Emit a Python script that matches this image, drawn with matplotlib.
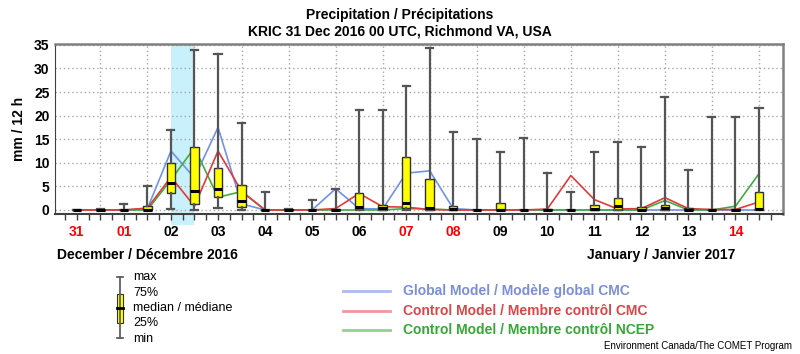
import matplotlib
matplotlib.use("Agg")
import matplotlib.pyplot as plt
from matplotlib.transforms import blended_transform_factory
from matplotlib.patches import Rectangle

plt.rcParams['font.family'] = ['Liberation Sans', 'DejaVu Sans']

# ---- data (12-hourly, starting 31 Dec 2016 00 UTC) ----
mins    = [0, 0, 0, 0, 0.2, 0.1, 0.5, 0, 0, 0, 0, 0, 0, 0, 0.1, 0, 0, 0, 0, 0, 0, 0, 0, 0, 0, 0, 0, 0, 0, 0.1]
q1s     = [0, 0, 0, 0, 3.7, 1.2, 2.8, 0.6, 0, 0, 0, 0, 0.2, 0.1, 0.35, 0.1, 0, 0, 0, 0, 0, 0, 0, 0, 0, 0, 0, 0, 0, 0.2]
medians = [0, 0, 0, 0.1, 5.8, 4.0, 4.5, 1.8, 0, 0.1, 0, 0.1, 0.6, 0.5, 1.5, 0.5, 0.2, 0, 0.1, 0, 0.1, 0, 0.3, 0.8, 0.1, 0.4, 0.1, 0, 0.1, 0.3]
q3s     = [0.1, 0.1, 0, 0.8, 10.0, 13.4, 9.0, 5.2, 0, 0.2, 0, 0.3, 3.7, 1.1, 11.2, 6.5, 0.8, 0.1, 1.4, 0, 0.3, 0, 1.1, 2.6, 0.6, 1.1, 0.5, 0, 0.2, 3.9]
maxs    = [0.1, 0.2, 1.3, 5.0, 17.0, 34.0, 33.0, 18.5, 3.8, 0.3, 2.2, 4.5, 21.2, 21.2, 26.3, 34.3, 16.5, 15.0, 12.2, 15.3, 7.8, 3.8, 12.2, 14.5, 13.4, 24.0, 8.4, 19.8, 19.8, 21.6]

global_cmc  = [0, 0, 0, 0.3, 12.5, 6.8, 17.5, 1.3, 0, 0, 0, 4.5, 0.3, 0.2, 7.8, 8.3, 0.3, 0, 0, 0, 0, 0, 0, 0, 0, 0, 0, 0, 0, 0]
control_cmc = [0, 0, 0, 0.4, 7.0, 0.8, 12.5, 4.0, 0, 0, 0, 0.3, 3.5, 0.7, 0.6, 0.1, 0, 0, 0, 0, 0.2, 7.3, 2.2, 0.2, 0.3, 2.6, 0.3, 0.1, 0.1, 1.7]
control_ncep = [0, 0, 0, 0, 6.4, 13.2, 2.7, 3.9, 0, 0, 0, 0, 0, 0, 0.3, 0.2, 0, 0, 0, 0, 0, 0, 0, 0, 0, 2.0, 0, 0, 0.8, 7.7]

day_labels = ['31', '01', '02', '03', '04', '05', '06', '07', '08', '09', '10', '11', '12', '13', '14']
day_colors = ['red', 'red', 'black', 'black', 'black', 'black', 'black', 'red', 'red',
              'black', 'black', 'black', 'black', 'black', 'red']

n = len(maxs)
positions = list(range(n))

fig = plt.figure(figsize=(8, 3.54), dpi=100)
ax = fig.add_axes([0.06875, 0.3955, 0.91, 0.4805])
ax.set_xlim(-0.93, 30.02)
ax.set_ylim(-0.85, 35.2)

# highlight span (extends below axis)
trans = blended_transform_factory(ax.transData, ax.transAxes)
ax.add_patch(Rectangle((4, -0.065), 1, 1.065, transform=trans, facecolor='#c9f1fb',
                       edgecolor='none', clip_on=False, zorder=0))

# grid
for yv in range(0, 36, 5):
    ax.axhline(yv, color='#a8a8a8', lw=1.0, ls=(0, (1, 2)), zorder=1)
for xv in range(1, 30, 2):
    ax.axvline(xv, color='#a8a8a8', lw=1.0, ls=(0, (1, 2)), zorder=1)

# lines
ax.plot(positions, global_cmc, color='#6f93e8', lw=1.2, zorder=3)
ax.plot(positions, control_ncep, color='#3fae3f', lw=1.2, zorder=3)
ax.plot(positions, control_cmc, color='#e23a3a', lw=1.2, zorder=3)

# boxes
stats = [dict(whislo=mins[i], q1=q1s[i], med=medians[i], q3=q3s[i], whishi=maxs[i])
         for i in range(n)]
ax.bxp(stats, positions=positions, widths=0.36, showfliers=False, patch_artist=True,
       boxprops=dict(facecolor='#ffff00', edgecolor='#303030', lw=1.0),
       medianprops=dict(color='black', lw=2.2),
       whiskerprops=dict(color='#555555', lw=1.6),
       capprops=dict(color='#555555', lw=1.6),
       capwidths=0.3, zorder=4, manage_ticks=False)

# spines
for s in ['top', 'right']:
    ax.spines[s].set_color('#808080')
    ax.spines[s].set_linewidth(1.8)
ax.spines['left'].set_color('#404040')
ax.spines['bottom'].set_color('#404040')
ax.spines['bottom'].set_linewidth(1.5)

ax.set_yticks(range(0, 36, 5))
ax.tick_params(axis='y', length=0, pad=4, labelsize=10)
for lab in ax.get_yticklabels():
    lab.set_fontweight('bold')
ax.set_ylabel('mm / 12 h', fontsize=10, fontweight='bold', labelpad=6)

ax.set_xticks(positions[::2])
ax.set_xticklabels(day_labels)
ax.set_xticks([p / 2 for p in range(-1, 2 * n)], minor=True)
ax.tick_params(axis='x', which='both', direction='out', length=4, width=1, color='#404040')
ax.tick_params(axis='x', which='major', pad=4, labelsize=10)
for lab, c in zip(ax.get_xticklabels(), day_colors):
    lab.set_color(c)
    lab.set_fontweight('bold')

# titles
fig.text(0.5, 1 - 15 / 354, 'Precipitation / Précipitations', ha='center', va='center',
         fontsize=10, fontweight='bold')
fig.text(0.5, 1 - 31 / 354, 'KRIC 31 Dec 2016 00 UTC, Richmond VA, USA', ha='center', va='center',
         fontsize=10, fontweight='bold')

# month labels
fig.text(57 / 800, 1 - 255 / 354, 'December / Décembre 2016', ha='left', va='center',
         fontsize=10, fontweight='bold')
fig.text(735 / 800, 1 - 255 / 354, 'January / Janvier 2017', ha='right', va='center',
         fontsize=10, fontweight='bold')

# legend overlay
lg = fig.add_axes([0, 0, 1, 1], zorder=-1)
lg.set_xlim(0, 800)
lg.set_ylim(354, 0)
lg.axis('off')
lx = 120
lg.plot([lx, lx], [277, 338], color='#606060', lw=1.3)
lg.plot([lx - 3, lx + 3], [277, 277], color='#606060', lw=1.3)
lg.plot([lx - 3, lx + 3], [338, 338], color='#606060', lw=1.3)
lg.add_patch(Rectangle((lx - 3, 294), 6, 29, facecolor='#ffff00', edgecolor='#303030', lw=0.8))
lg.plot([lx - 3, lx + 3], [308, 308], color='black', lw=2)
narrow = ['Liberation Sans Narrow', 'Liberation Sans', 'DejaVu Sans']
for txt, yy in [('max', 277), ('75%', 293), ('median / médiane', 308), ('25%', 323), ('min', 339)]:
    lg.text(133, yy, txt, fontsize=9, family=narrow, va='center', ha='left')

for txt, yy, lc, tc in [('Global Model / Modèle global CMC', 291, '#a9bdf0', '#7a8fd6'),
                        ('Control Model / Membre contrôl CMC', 311, '#ee9a9a', '#d94848'),
                        ('Control Model / Membre contrôl NCEP', 330, '#94cf94', '#35a835')]:
    lg.plot([343, 390], [yy, yy], color=lc, lw=2)
    lg.text(403, yy, txt, fontsize=10, family=narrow, fontweight='bold', color=tc,
            va='center', ha='left')

fig.text(792 / 800, 1 - 346 / 354, 'Environment Canada/The COMET Program', ha='right',
         va='center', fontsize=7, family=narrow)

fig.savefig('out.png', dpi=100)
